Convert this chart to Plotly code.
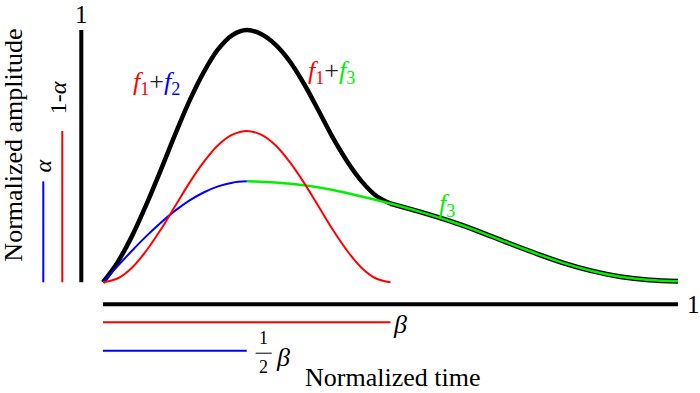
import plotly.graph_objects as go

# ---- data ----
alpha = 0.4            # amplitude of f2 / f3 start
beta = 0.5             # duration of f1
t_left = [0.0, 0.025, 0.05, 0.075, 0.1, 0.125, 0.15, 0.175, 0.2, 0.225, 0.25,
          0.275, 0.3, 0.325, 0.35, 0.375, 0.4, 0.425, 0.45, 0.475, 0.5]
red_v = [0.0, 0.015, 0.057, 0.124, 0.207, 0.300, 0.393, 0.476, 0.543, 0.585, 0.600,
         0.585, 0.543, 0.476, 0.393, 0.300, 0.207, 0.124, 0.057, 0.015, 0.0]
blue_t = [0.0, 0.025, 0.05, 0.075, 0.1, 0.125, 0.15, 0.175, 0.2, 0.225, 0.25]
blue_v = [0.0, 0.063, 0.124, 0.182, 0.235, 0.283, 0.324, 0.356, 0.380, 0.395, 0.400]
green_t = [0.25, 0.3, 0.35, 0.4, 0.45, 0.5, 0.55, 0.6, 0.65, 0.7, 0.75,
           0.8, 0.85, 0.9, 0.95, 1.0]
green_v = [0.400, 0.396, 0.385, 0.366, 0.340, 0.312, 0.280, 0.245, 0.205, 0.160, 0.117,
           0.077, 0.045, 0.022, 0.009, 0.004]
black_left_v = [0.0, 0.078, 0.181, 0.306, 0.442, 0.583, 0.717, 0.832, 0.923, 0.980, 1.000,
                0.984, 0.942, 0.875, 0.785, 0.680, 0.572, 0.478, 0.400, 0.343, 0.312]
black_tail_t = green_t[5:]
black_tail_v = green_v[5:]

RED = "#ff0000"
BLUE = "#0000ff"
GREEN = "#00f000"
FONT = "Liberation Serif, Times New Roman, serif"

fig = go.Figure()

def curve(x, y, color, width):
    fig.add_trace(go.Scatter(x=x, y=y, mode="lines",
                             line=dict(color=color, width=width, shape="spline", smoothing=1.0),
                             hoverinfo="skip", showlegend=False))

# black composite curve
curve(t_left, black_left_v, "black", 4.5)
curve(black_tail_t, black_tail_v, "black", 5)
# components
curve(green_t, green_v, GREEN, 2.5)
curve(blue_t, blue_v, BLUE, 2)
curve(t_left, red_v, RED, 2)

# scale bars (positions are styling, lengths from the data)
def seg(x0, y0, x1, y1, color, width):
    fig.add_shape(type="line", x0=x0, y0=y0, x1=x1, y1=y1, xref="x", yref="y",
                  line=dict(color=color, width=width))

vx_black, vx_red, vx_blue = -0.0377, -0.0708, -0.1038
hy_black, hy_red, hy_blue = -0.0872, -0.1585, -0.2711
seg(vx_black, 0, vx_black, 1.0, "black", 4)
seg(vx_red, 0, vx_red, 1 - alpha, RED, 2)
seg(vx_blue, 0, vx_blue, alpha, BLUE, 2)
seg(0, hy_black, 1.0, hy_black, "black", 4)
seg(0, hy_red, beta, hy_red, RED, 2)
seg(0, hy_blue, beta / 2, hy_blue, BLUE, 2)

def note(x, y, text, size=26, color="black", angle=0, xanchor="center"):
    fig.add_annotation(x=x, y=y, xref="x", yref="y", text=text, showarrow=False,
                       textangle=angle, xanchor=xanchor, yanchor="middle",
                       font=dict(family=FONT, size=size, color=color))

note(vx_black, 1.06, "1", size=25)
note(1.0 + 0.027, hy_black, "1", size=25)
note(vx_red - 0.007, 0.73, "1-<i>α</i>", size=24, angle=-90)
note(vx_blue, 0.46, "<i>α</i>", size=24, angle=-90)
note(-0.155, 0.545, "Normalized amplitude", size=26, angle=-90)
note(0.503, -0.376, "Normalized time", size=26)
note(beta + 0.017, hy_red - 0.008, "<i>β</i>", size=26)
# fraction 1/2 beta
fx = beta / 2 + 0.0295
note(fx, hy_blue + 0.05, "1", size=18)
note(fx, hy_blue - 0.065, "2", size=18)
seg(fx - 0.014, hy_blue - 0.01, fx + 0.014, hy_blue - 0.01, "black", 1)
note(fx + 0.034, hy_blue - 0.026, "<i>β</i>", size=26)

sub = lambda c, n: f"<span style='color:{c}'><i>f</i><sub>{n}</sub></span>"
note(0.093, 0.79, sub(RED, 1) + "<span style='color:#222'>+</span>" + sub(BLUE, 2), size=26)
note(0.397, 0.835, sub(RED, 1) + "<span style='color:#222'>+</span>" + sub(GREEN, 3), size=26)
note(0.598, 0.305, sub(GREEN, 3), size=26)

fig.update_layout(
    width=700, height=393, autosize=False,
    margin=dict(l=0, r=0, t=0, b=0),
    paper_bgcolor="white", plot_bgcolor="white",
    font=dict(family=FONT),
    xaxis=dict(range=[-0.1791, 1.0383], visible=False, fixedrange=True),
    yaxis=dict(range=[-0.4388, 1.1189], visible=False, fixedrange=True),
    showlegend=False,
)
fig.write_html("out.html", config={"displayModeBar": False},
               post_script="document.body.style.margin='0';document.body.style.overflow='hidden';")
